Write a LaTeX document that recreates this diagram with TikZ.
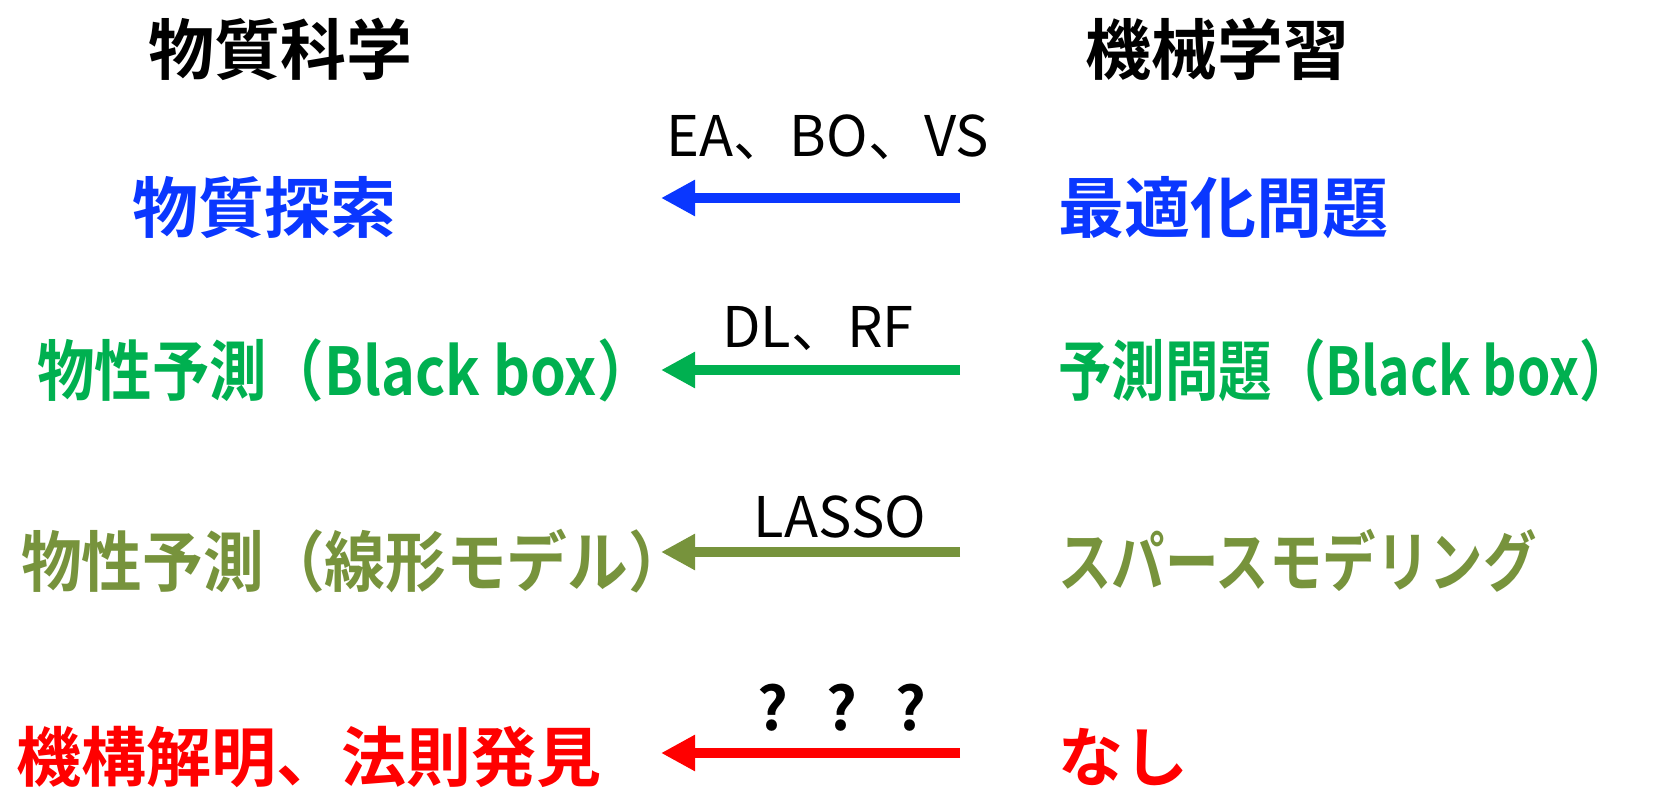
\documentclass[tikz,border=0pt]{standalone}
\usepackage{fontspec}
\usetikzlibrary{arrows.meta}
\newfontfamily\jp[BoldFont={Noto Sans CJK JP Bold}]{Noto Sans CJK JP}
\newfontfamily\jpg[FakeStretch=0.87,BoldFont={Noto Sans CJK JP Bold}]{Noto Sans CJK JP}
\newfontfamily\jpgr[FakeStretch=0.81,BoldFont={Noto Sans CJK JP Bold}]{Noto Sans CJK JP}
\newfontfamily\jpo[FakeStretch=0.92,BoldFont={Noto Sans CJK JP Bold}]{Noto Sans CJK JP}
\newfontfamily\jpk[FakeStretch=0.81,BoldFont={Noto Sans CJK JP Bold}]{Noto Sans CJK JP}
\definecolor{cblue}{RGB}{10,55,255}
\definecolor{cgreen}{RGB}{0,176,80}
\definecolor{colive}{RGB}{119,147,60}
\definecolor{cred}{RGB}{255,0,0}
\tikzset{
  titletext/.style={inner sep=0pt, anchor=base west, font=\jp\bfseries\fontsize{66}{72}\selectfont},
  bigtext/.style={inner sep=0pt, anchor=base west, font=\jp\bfseries\fontsize{66}{72}\selectfont},
  redtext/.style={inner sep=0pt, anchor=base west, font=\jp\bfseries\fontsize{65}{72}\selectfont},
  greentext/.style={inner sep=0pt, anchor=base west, font=\jpg\bfseries\fontsize{66}{72}\selectfont},
  greenrtext/.style={inner sep=0pt, anchor=base west, font=\jpgr\bfseries\fontsize{66}{72}\selectfont},
  olivetext/.style={inner sep=0pt, anchor=base west, font=\jpo\bfseries\fontsize{66}{72}\selectfont},
  olivektext/.style={inner sep=0pt, anchor=base west, font=\jpk\bfseries\fontsize{66}{72}\selectfont},
  lbl/.style={inner sep=0pt, anchor=base, font=\jp\fontsize{56}{62}\selectfont},
  qlbl/.style={inner sep=0pt, anchor=base, font=\jp\bfseries\fontsize{60}{62}\selectfont},
  arr/.style={line width=10pt, -{Triangle[length=34pt,width=34pt]}},
}
\begin{document}
\begin{tikzpicture}[x=1pt,y=-1pt]
\useasboundingbox (0,0) rectangle (1659,794);
% titles
\node[titletext] (t1) at (148,75) {物質科学};
\node[titletext] (t2) at (1085,75) {機械学習};
% left column
\node[bigtext, text=cblue] (l1) at (132,233) {物質探索};
\node[greentext, text=cgreen] (l2) at (37,395) {物性予測（Black box）};
\node[olivetext, text=colive] (l3) at (21,586) {物性予測（線形モデル）};
\node[redtext, text=cred] (l4) at (16,781) {機構解明、法則発見};
% right column
\node[bigtext, text=cblue] (r1) at (1058,233) {最適化問題};
\node[greenrtext, text=cgreen] (r2) at (1058,395) {予測問題（Black box）};
\node[olivektext, text=colive] (r3) at (1058,586) {スパースモデリング};
\node[redtext, text=cred] (r4) at (1058,781) {なし};
% labels
\node[lbl] (m1) at (828,157) {EA、BO、VS};
\node[lbl] (m2) at (818,347) {DL、RF};
\node[lbl] (m3) at (840,537) {LASSO};
\node[qlbl] (m4) at (842,730) {?\hspace{38pt}?\hspace{38pt}?};
% arrows
\coordinate (s1) at (960,198); \coordinate (e1) at (661,198);
\coordinate (s2) at (960,370); \coordinate (e2) at (661,370);
\coordinate (s3) at (960,552); \coordinate (e3) at (661,552);
\coordinate (s4) at (960,753); \coordinate (e4) at (661,753);
\draw[arr, cblue] (s1) -- (e1);
\draw[arr, cgreen] (s2) -- (e2);
\draw[arr, colive] (s3) -- (e3);
\draw[arr, cred] (s4) -- (e4);
\end{tikzpicture}
\end{document}
